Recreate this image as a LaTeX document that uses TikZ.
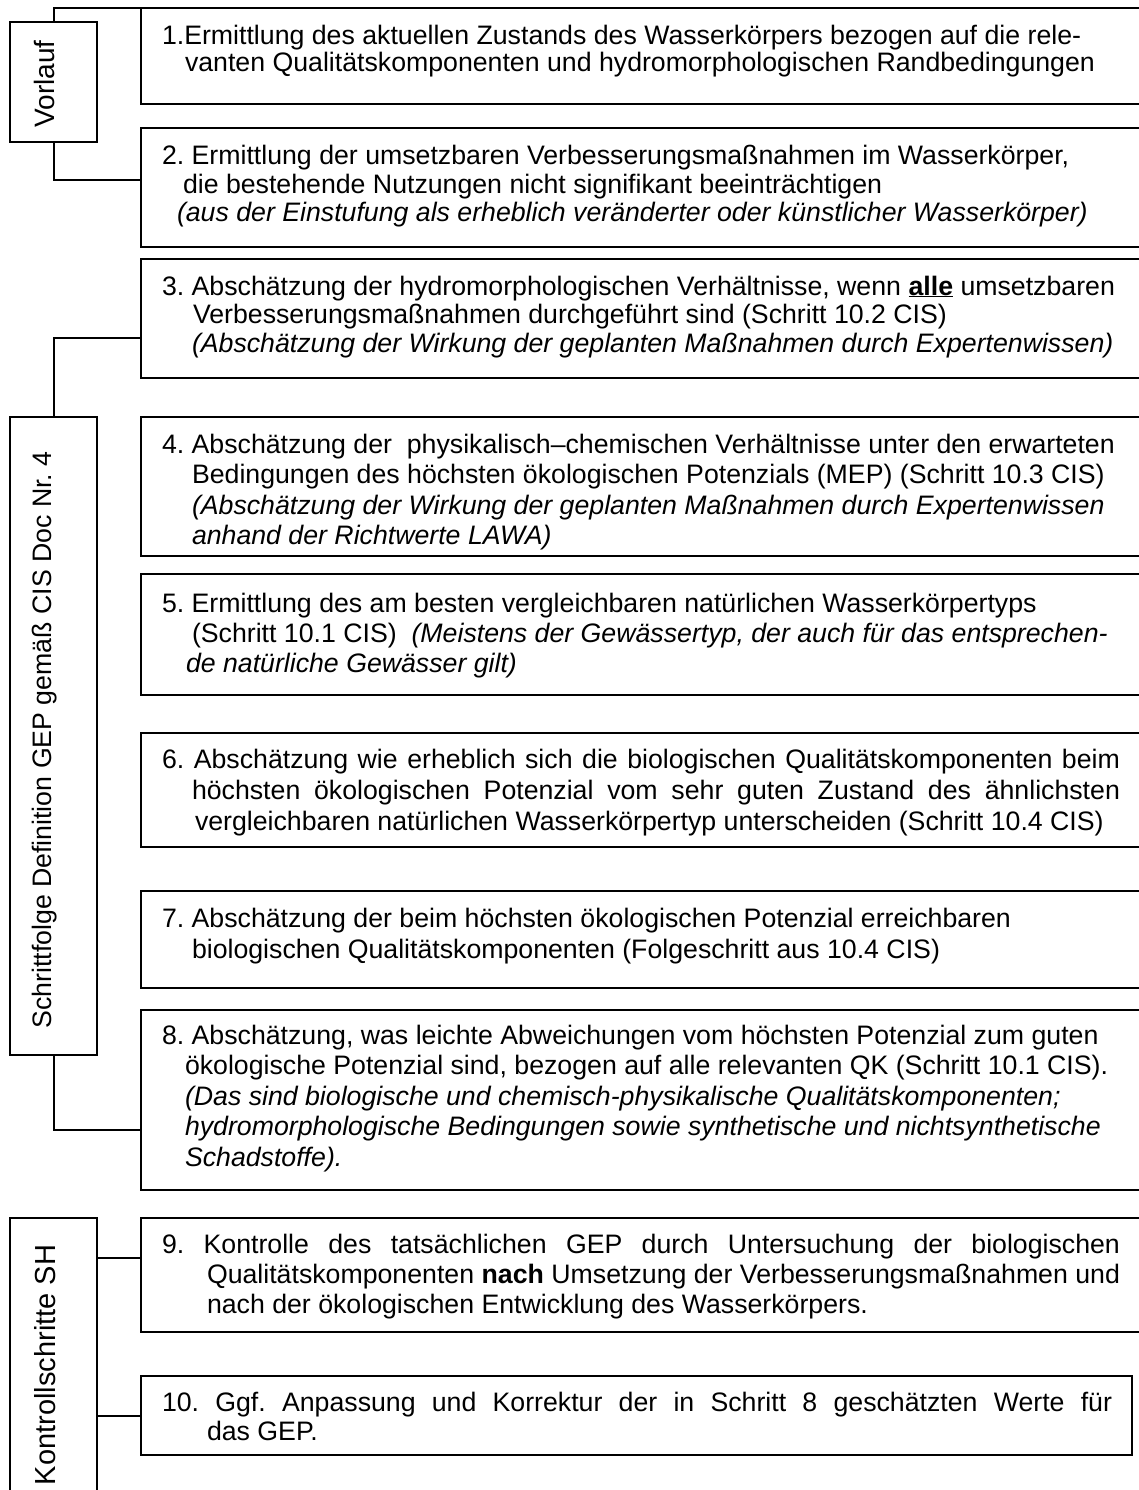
\documentclass[tikz,border=0pt]{standalone}
\usepackage{fontspec}
\setmainfont{Liberation Sans}
\frenchspacing
\newcommand\btext[2]{\parbox[t]{1000pt}{\frenchspacing\fontsize{26.7}{#1}\selectfont #2}}
\tikzset{
  stepbox/.style={draw, line width=2pt, rectangle, inner sep=0pt, outer sep=0pt, anchor=north west},
  sidebox/.style={draw, line width=2pt, rectangle, inner sep=0pt, outer sep=0pt, anchor=north west, minimum width=87pt},
  conn/.style={line width=2pt},
  txt/.style={inner sep=0pt, outer sep=0pt, anchor=base west},
  vlabel/.style={rotate=90, inner sep=0pt, outer sep=0pt}
}
\begin{document}
\begin{tikzpicture}[x=1pt,y=-1pt]
\useasboundingbox (0,0) rectangle (1139,1490);
\clip (0,0) rectangle (1139,1490);
\fill[white] (0,0) rectangle (1139,1490);

% side boxes
\node[sidebox, minimum height=120pt] (vorlauf) at (10,22) {};
\node[sidebox, minimum height=638pt] (schritt) at (10,417) {};
\node[sidebox, minimum height=300pt] (kontroll) at (10,1218) {};
\node[vlabel, font=\fontsize{28}{30}\selectfont] (lvor) at (44,84) {Vorlauf};
\node[vlabel, font=\fontsize{26.7}{30}\selectfont] (lsch) at (45,740) {Schrittfolge Definition GEP gemäß CIS Doc Nr. 4};
\node[vlabel, font=\fontsize{29}{30}\selectfont] (lkon) at (45,1365) {Kontrollschritte SH};

% step boxes
\node[stepbox, minimum width=1009pt, minimum height=96pt]  (b1) at (141,8) {};
\node[stepbox, minimum width=1009pt, minimum height=119pt] (b2) at (141,128) {};
\node[stepbox, minimum width=1009pt, minimum height=119pt] (b3) at (141,259) {};
\node[stepbox, minimum width=1009pt, minimum height=139pt] (b4) at (141,417) {};
\node[stepbox, minimum width=1009pt, minimum height=121pt] (b5) at (141,574) {};
\node[stepbox, minimum width=1009pt, minimum height=114pt] (b6) at (141,733) {};
\node[stepbox, minimum width=1009pt, minimum height=97pt]  (b7) at (141,891) {};
\node[stepbox, minimum width=1009pt, minimum height=180pt] (b8) at (141,1010) {};
\node[stepbox, minimum width=1009pt, minimum height=114pt] (b9) at (141,1218) {};
\node[stepbox, minimum width=991pt, minimum height=79pt]   (b10) at (141,1376) {};

% connectors
\draw[conn] (vorlauf.north) |- (b1.north west);
\draw[conn] (vorlauf.south) |- ([yshift=7.5pt]b2.west);
\draw[conn] (schritt.north) |- ([yshift=-19.5pt]b3.west);
\draw[conn] (schritt.south) |- ([yshift=-30pt]b8.west);
\draw[conn] ([yshift=17.5pt]b9.west) -- ([yshift=17.5pt]b9.west -| kontroll.east);
\draw[conn] (b10.west) -- (b10.west -| kontroll.east);

% texts
\node[txt] (t1) at (162,45) {\btext{27}{1.Ermittlung des aktuellen Zustands des Wasserkörpers bezogen auf die rele-\\
\hspace*{23pt}vanten Qualitätskomponenten und hydromorphologischen Randbedingungen}};

\node[txt] (t2) at (162,165) {\btext{28.5}{2. Ermittlung der umsetzbaren Verbesserungsmaßnahmen im Wasserkörper,\\
\hspace*{21pt}die bestehende Nutzungen nicht signifikant beeinträchtigen\\
\hspace*{15pt}\textit{(aus der Einstufung als erheblich veränderter oder künstlicher Wasserkörper)}}};

\node[txt] (t3) at (162,295) {\btext{28.5}{3. Abschätzung der hydromorphologischen Verhältnisse, wenn \underline{\textbf{alle}} umsetzbaren\\
\hspace*{31pt}Verbesserungsmaßnahmen durchgeführt sind (Schritt 10.2 CIS)\\
\hspace*{30pt}\textit{(Abschätzung der Wirkung der geplanten Maßnahmen durch Expertenwissen)}}};

\node[txt] (t4) at (162,453) {\btext{30.5}{4. Abschätzung der\ \ physikalisch–chemischen Verhältnisse unter den erwarteten\\
\hspace*{30pt}Bedingungen des höchsten ökologischen Potenzials (MEP) (Schritt 10.3 CIS)\\
\hspace*{30pt}\textit{(Abschätzung der Wirkung der geplanten Maßnahmen durch Expertenwissen}\\
\hspace*{30pt}\textit{anhand der Richtwerte LAWA)}}};

\node[txt] (t5) at (162,612) {\btext{30}{5. Ermittlung des am besten vergleichbaren natürlichen Wasserkörpertyps\\
\hspace*{30pt}(Schritt 10.1 CIS)\ \ \textit{(Meistens der Gewässertyp, der auch für das entsprechen-}\\
\hspace*{24pt}\textit{de natürliche Gewässer gilt)}}};

\node[txt] (t6) at (162,768) {\btext{31}{\makebox[958pt][s]{6. Abschätzung wie erheblich sich die biologischen Qualitätskomponenten beim}\\
\hspace*{30pt}\makebox[928pt][s]{höchsten ökologischen Potenzial vom sehr guten Zustand des ähnlichsten}\\
\hspace*{33pt}vergleichbaren natürlichen Wasserkörpertyp unterscheiden (Schritt 10.4 CIS)}};

\node[txt] (t7) at (162,927) {\btext{31}{7. Abschätzung der beim höchsten ökologischen Potenzial erreichbaren\\
\hspace*{30pt}biologischen Qualitätskomponenten (Folgeschritt aus 10.4 CIS)}};

\node[txt] (t8) at (162,1044) {\btext{30.5}{8. Abschätzung, was leichte Abweichungen vom höchsten Potenzial zum guten\\
\hspace*{23pt}ökologische Potenzial sind, bezogen auf alle relevanten QK (Schritt 10.1 CIS).\\
\hspace*{23pt}\textit{(Das sind biologische und chemisch-physikalische Qualitätskomponenten;}\\
\hspace*{23pt}\textit{hydromorphologische Bedingungen sowie synthetische und nichtsynthetische}\\
\hspace*{23pt}\textit{Schadstoffe).}}};

\node[txt] (t9) at (162,1253) {\btext{30}{\makebox[958pt][s]{9. Kontrolle des tatsächlichen GEP durch Untersuchung der biologischen}\\
\hspace*{45pt}\makebox[913pt][s]{Qualitätskomponenten \textbf{nach} Umsetzung der Verbesserungsmaßnahmen und}\\
\hspace*{45pt}nach der ökologischen Entwicklung des Wasserkörpers.}};

\node[txt] (t10) at (162,1411) {\btext{29}{\makebox[950pt][s]{10. Ggf. Anpassung und Korrektur der in Schritt 8 geschätzten Werte für}\\
\hspace*{45pt}das GEP.}};
\end{tikzpicture}
\end{document}
